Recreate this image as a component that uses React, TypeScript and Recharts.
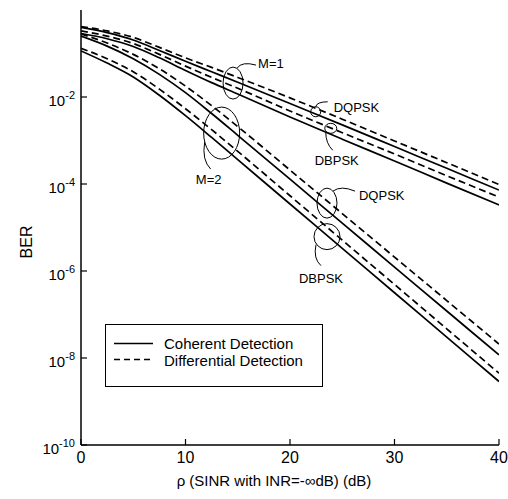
import React from 'react';
import { LineChart, Line, XAxis, YAxis, Legend, ReferenceDot } from 'recharts';

// SNR axis (dB)
const snrDb = [0, 2.5, 5, 7.5, 10, 12.5, 15, 20, 25, 30, 35, 40];

// BER values, stored as -log10(BER)
const m1DqpskDiffExp = [0.38, 0.48, 0.63, 0.86, 1.1, 1.32, 1.55, 2.02, 2.51, 3.01, 3.51, 4.01];
const m1DqpskCohExp = [0.4, 0.52, 0.69, 0.93, 1.18, 1.42, 1.66, 2.15, 2.64, 3.14, 3.64, 4.14];
const m1DbpskDiffExp = [0.48, 0.6, 0.77, 1.02, 1.29, 1.55, 1.8, 2.32, 2.82, 3.31, 3.81, 4.3];
const m1DbpskCohExp = [0.54, 0.66, 0.84, 1.1, 1.39, 1.67, 1.93, 2.46, 2.97, 3.47, 3.98, 4.48];
const m2DqpskDiffExp = [0.55, 0.76, 1.02, 1.35, 1.75, 2.2, 2.68, 3.68, 4.68, 5.68, 6.68, 7.68];
const m2DqpskCohExp = [0.6, 0.83, 1.12, 1.48, 1.9, 2.38, 2.88, 3.89, 4.9, 5.91, 6.92, 7.93];
const m2DbpskDiffExp = [0.88, 1.12, 1.42, 1.82, 2.27, 2.75, 3.25, 4.27, 5.29, 6.31, 7.33, 8.35];
const m2DbpskCohExp = [0.94, 1.22, 1.54, 1.96, 2.43, 2.93, 3.44, 4.46, 5.48, 6.5, 7.52, 8.54];

const xTicks = [0, 10, 20, 30, 40];
const yTicks = [1, 1e-2, 1e-4, 1e-6, 1e-8, 1e-10];

const legendItems = [
  { label: 'Coherent Detection', dashed: false },
  { label: 'Differential Detection', dashed: true },
];

// annotation anchors: [x (dB), -log10(BER), kind]
const annotations = [
  { x: 14.55, exp: 1.68, kind: 'M1' },
  { x: 13.46, exp: 2.83, kind: 'M2' },
  { x: 22.46, exp: 2.34, kind: 'Q1' },
  { x: 23.9, exp: 2.72, kind: 'B1' },
  { x: 23.54, exp: 4.44, kind: 'Q2' },
  { x: 23.54, exp: 5.21, kind: 'B2' },
];

const series = [
  { key: 'm1QDiff', vals: m1DqpskDiffExp, dashed: true },
  { key: 'm1QCoh', vals: m1DqpskCohExp, dashed: false },
  { key: 'm1BDiff', vals: m1DbpskDiffExp, dashed: true },
  { key: 'm1BCoh', vals: m1DbpskCohExp, dashed: false },
  { key: 'm2QDiff', vals: m2DqpskDiffExp, dashed: true },
  { key: 'm2QCoh', vals: m2DqpskCohExp, dashed: false },
  { key: 'm2BDiff', vals: m2DbpskDiffExp, dashed: true },
  { key: 'm2BCoh', vals: m2DbpskCohExp, dashed: false },
];

const data = snrDb.map((x, i) => {
  const row: any = { x };
  series.forEach((s) => {
    row[s.key] = Math.pow(10, -s.vals[i]);
  });
  return row;
});

const FONT = '"Liberation Sans", Arial, Helvetica, sans-serif';
const DASH = '7 4';

const LeftTick = (props: any) => {
  const { x, y, payload } = props;
  const e = Math.round(Math.log10(payload.value));
  return (
    <g>
      <line x1={x} x2={x + 6} y1={y} y2={y} stroke="#000" strokeWidth={1.2} />
      {e === 0 ? (
        <text x={x - 7} y={y + 4} textAnchor="end" fontSize={15} fontFamily={FONT} fill="#000">1</text>
      ) : (
        <text x={x - 6} y={y + 9} textAnchor="end" fontSize={15} fontFamily={FONT} fill="#000">
          10<tspan dy={-7} fontSize={11}>{e}</tspan>
        </text>
      )}
    </g>
  );
};

const RightTick = (props: any) => {
  const { x, y } = props;
  return <line x1={x} x2={x - 6} y1={y} y2={y} stroke="#000" strokeWidth={1.2} />;
};

const BottomTick = (props: any) => {
  const { x, y, payload } = props;
  return (
    <g>
      <line x1={x} x2={x} y1={y} y2={y - 6} stroke="#000" strokeWidth={1.2} />
      <text x={x} y={y + 18} textAnchor="middle" fontSize={16} fontFamily={FONT} fill="#000">{payload.value}</text>
    </g>
  );
};

const TopTick = (props: any) => {
  const { x, y } = props;
  return <line x1={x} x2={x} y1={y} y2={y + 6} stroke="#000" strokeWidth={1.2} />;
};

const annStyle = { fill: 'none', stroke: '#000', strokeWidth: 1 };
const txt = { fontSize: 13, fontFamily: FONT, fill: '#000' } as any;

const makeShape = (kind: string) => (props: any) => {
  const { cx, cy } = props;
  if (cx == null || cy == null) return <g />;
  switch (kind) {
    case 'M1':
      return (
        <g>
          <ellipse cx={cx} cy={cy} rx={10} ry={16} {...annStyle} />
          <path d={`M${cx + 4},${cy - 15} Q${cx + 9},${cy - 22} ${cx + 23},${cy - 18}`} {...annStyle} />
          <text x={cx + 25} y={cy - 15} {...txt}>M=1</text>
        </g>
      );
    case 'M2':
      return (
        <g>
          <ellipse cx={cx} cy={cy} rx={18} ry={26} {...annStyle} />
          <path d={`M${cx - 17},${cy + 9} Q${cx - 20},${cy + 27} ${cx - 11},${cy + 36}`} {...annStyle} />
          <text x={cx - 13} y={cy + 51} textAnchor="middle" {...txt}>M=2</text>
        </g>
      );
    case 'Q1':
      return (
        <g>
          <ellipse cx={cx} cy={cy} rx={5} ry={5} {...annStyle} />
          <path d={`M${cx},${cy - 5} Q${cx + 1},${cy - 10} ${cx + 12},${cy - 10}`} {...annStyle} />
          <text x={cx + 18} y={cy} {...txt}>DQPSK</text>
        </g>
      );
    case 'B1':
      return (
        <g>
          <ellipse cx={cx} cy={cy} rx={6} ry={5} {...annStyle} />
          <path d={`M${cx - 5},${cy + 4} Q${cx - 5},${cy + 15} ${cx + 2},${cy + 22}`} {...annStyle} />
          <text x={cx + 6} y={cy + 37} textAnchor="middle" {...txt}>DBPSK</text>
        </g>
      );
    case 'Q2':
      return (
        <g>
          <ellipse cx={cx} cy={cy} rx={10} ry={15} {...annStyle} />
          <path d={`M${cx + 6},${cy - 12} Q${cx + 14},${cy - 18} ${cx + 28},${cy - 12}`} {...annStyle} />
          <text x={cx + 32} y={cy - 3} {...txt}>DQPSK</text>
        </g>
      );
    default:
      return (
        <g>
          <ellipse cx={cx} cy={cy} rx={13} ry={13} {...annStyle} />
          <path d={`M${cx - 11},${cy + 8} Q${cx - 14},${cy + 22} ${cx - 6},${cy + 29}`} {...annStyle} />
          <text x={cx - 6} y={cy + 46} textAnchor="middle" {...txt}>DBPSK</text>
        </g>
      );
  }
};

const LegendBox = () => (
  <svg width={218} height={63} style={{ display: 'block' }}>
    <rect x={0.5} y={0.5} width={217} height={62} fill="#fff" stroke="#000" strokeWidth={1} />
    {legendItems.map((it, i) => (
      <g key={it.label}>
        <line
          x1={9}
          x2={48}
          y1={19.5 + i * 16}
          y2={19.5 + i * 16}
          stroke="#000"
          strokeWidth={1.6}
          strokeDasharray={it.dashed ? '6 4' : undefined}
        />
        <text x={59} y={25 + i * 16.5} fontSize={15} fontFamily={FONT} fill="#000">{it.label}</text>
      </g>
    ))}
  </svg>
);

export default function App() {
  return (
    <div style={{ position: 'absolute', left: 8, top: 8, width: 500, height: 484, background: '#fff' }}>
      <style>{`.recharts-surface{overflow:visible}`}</style>
      <LineChart width={500} height={484} data={data} margin={{ top: 2, right: 9, left: 0, bottom: 0 }}>
        <XAxis
          dataKey="x"
          type="number"
          domain={[0, 40]}
          ticks={xTicks}
          allowDataOverflow
          height={47}
          tickSize={0}
          tickMargin={0}
          tick={<BottomTick />}
          axisLine={{ stroke: '#000', strokeWidth: 1.5 }}
          tickLine={false}
          label={(p: any) => {
            const vb = p.viewBox || {};
            return (
              <text x={vb.x + vb.width / 2 - 16} y={vb.y + 41} textAnchor="middle" fontSize={15} fontFamily={FONT} fill="#000">
                ρ (SINR with INR=-∞dB) (dB)
              </text>
            );
          }}
        />
        <XAxis
          xAxisId="top"
          orientation="top"
          type="number"
          domain={[0, 40]}
          ticks={xTicks}
          allowDataOverflow
          height={0}
          tickSize={0}
          tickMargin={0}
          tick={<TopTick />}
          tickLine={false}
          axisLine={{ stroke: '#000', strokeWidth: 1.5 }}
        />
        <YAxis
          type="number"
          scale="log"
          domain={[1e-10, 1]}
          ticks={yTicks}
          allowDataOverflow
          width={73}
          tickSize={0}
          tickMargin={0}
          tick={<LeftTick />}
          tickLine={false}
          axisLine={{ stroke: '#000', strokeWidth: 1.5 }}
          label={() => {
            const cx = 24;
            const cy = 234;
            return (
              <text x={cx} y={cy} transform={`rotate(-90 ${cx} ${cy})`} textAnchor="middle" fontSize={16} fontFamily={FONT} fill="#000">
                BER
              </text>
            );
          }}
        />
        <YAxis
          yAxisId="right"
          orientation="right"
          type="number"
          scale="log"
          domain={[1e-10, 1]}
          ticks={yTicks}
          allowDataOverflow
          width={0}
          tickSize={0}
          tickMargin={0}
          tick={<RightTick />}
          tickLine={false}
          axisLine={{ stroke: '#000', strokeWidth: 1.5 }}
        />
        {series.map((s) => (
          <Line
            key={s.key}
            dataKey={s.key}
            type="monotone"
            stroke="#000"
            strokeWidth={1.7}
            strokeDasharray={s.dashed ? DASH : undefined}
            dot={false}
            activeDot={false}
            isAnimationActive={false}
            legendType="none"
          />
        ))}
        {annotations.map((a) => (
          <ReferenceDot
            key={a.kind}
            x={a.x}
            y={Math.pow(10, -a.exp)}
            ifOverflow="visible"
            shape={makeShape(a.kind)}
          />
        ))}
        <Legend
          layout="vertical"
          align="center"
          verticalAlign="middle"
          content={() => <LegendBox />}
          wrapperStyle={{ left: 97, top: 316, width: 218, height: 63 }}
        />
      </LineChart>
    </div>
  );
}
